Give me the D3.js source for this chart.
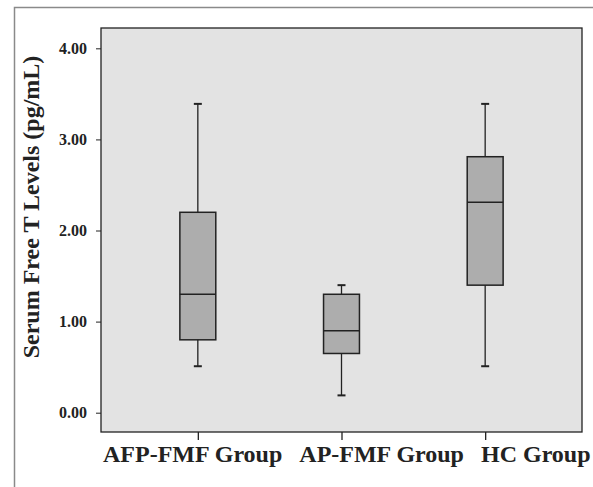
<!DOCTYPE html>
<html>
<head>
<meta charset="utf-8">
<script src="https://cdn.jsdelivr.net/npm/d3@7"></script>
<style>
  body { margin: 0; background: #fff; }
  svg { display: block; }
  .axis text { font-family: "Liberation Serif", "Times New Roman", serif; font-weight: bold; fill: #222; }
</style>
</head>
<body>
<div id="chart"></div>
<script>
// groups on the x axis
var categories = ["AFP-FMF Group", "AP-FMF Group", "HC Group"];
// box plot stats (pg/mL)
var whiskerLow  = [0.51, 0.19, 0.51];
var q1          = [0.80, 0.65, 1.40];
var medians     = [1.30, 0.90, 2.31];
var q3          = [2.20, 1.30, 2.81];
var whiskerHigh = [3.39, 1.40, 3.39];
// y tick values
var yTicks = [0, 1, 2, 3, 4];

var width = 593, height = 487;
var plot = {left: 101, right: 582, top: 28, bottom: 432};

var svg = d3.select("#chart").append("svg")
    .attr("width", width)
    .attr("height", height);

// outer grey frame (runs off the right and bottom)
svg.append("path")
    .attr("d", "M14.5," + height + "V7.5H" + width)
    .attr("fill", "none")
    .attr("stroke", "#8a8a8a")
    .attr("stroke-width", 1.5);

var xScale = d3.scalePoint()
    .domain(categories)
    .range([plot.left, plot.right])
    .padding(0.674);

var yScale = d3.scaleLinear()
    .domain([-0.212, 4.223])
    .range([plot.bottom, plot.top]);

// plot background
svg.append("rect")
    .attr("x", plot.left)
    .attr("y", plot.top)
    .attr("width", plot.right - plot.left)
    .attr("height", plot.bottom - plot.top)
    .attr("fill", "#e3e3e3")
    .attr("stroke", "#222")
    .attr("stroke-width", 1.3);

var boxData = categories.map(function(c, i) {
    return {cat: c, lo: whiskerLow[i], q1: q1[i], med: medians[i], q3: q3[i], hi: whiskerHigh[i]};
});

var boxW = xScale.step() * 0.25;
var capW = 8;

var boxes = svg.selectAll(".box")
    .data(boxData)
    .enter().append("g")
    .attr("class", "box");

// whiskers
boxes.append("line")
    .attr("x1", function(d) { return xScale(d.cat); })
    .attr("x2", function(d) { return xScale(d.cat); })
    .attr("y1", function(d) { return yScale(d.lo); })
    .attr("y2", function(d) { return yScale(d.hi); })
    .attr("stroke", "#222")
    .attr("stroke-width", 1.3);

boxes.selectAll(".cap")
    .data(function(d) { return [{cat: d.cat, v: d.lo}, {cat: d.cat, v: d.hi}]; })
    .enter().append("line")
    .attr("class", "cap")
    .attr("x1", function(d) { return xScale(d.cat) - capW / 2; })
    .attr("x2", function(d) { return xScale(d.cat) + capW / 2; })
    .attr("y1", function(d) { return yScale(d.v); })
    .attr("y2", function(d) { return yScale(d.v); })
    .attr("stroke", "#222")
    .attr("stroke-width", 2);

boxes.append("rect")
    .attr("x", function(d) { return xScale(d.cat) - boxW / 2; })
    .attr("y", function(d) { return yScale(d.q3); })
    .attr("width", boxW)
    .attr("height", function(d) { return yScale(d.q1) - yScale(d.q3); })
    .attr("fill", "#adadad")
    .attr("stroke", "#222")
    .attr("stroke-width", 1.5);

boxes.append("line")
    .attr("x1", function(d) { return xScale(d.cat) - boxW / 2; })
    .attr("x2", function(d) { return xScale(d.cat) + boxW / 2; })
    .attr("y1", function(d) { return yScale(d.med); })
    .attr("y2", function(d) { return yScale(d.med); })
    .attr("stroke", "#222")
    .attr("stroke-width", 1.5);

// y axis
var yAxis = svg.append("g")
    .attr("class", "axis y-axis")
    .attr("transform", "translate(" + plot.left + ",0)")
    .call(d3.axisLeft(yScale).tickValues(yTicks).tickFormat(d3.format(".2f")).tickSize(5).tickPadding(9));
yAxis.select(".domain").remove();
yAxis.selectAll("line").attr("stroke", "#222");
yAxis.selectAll("text").style("font-size", "16px");

// x axis ticks
var xAxis = svg.append("g")
    .attr("class", "axis x-axis")
    .attr("transform", "translate(0," + plot.bottom + ")")
    .call(d3.axisBottom(xScale).tickSize(8).tickFormat(""));
xAxis.select(".domain").remove();
xAxis.selectAll("line").attr("stroke", "#222").attr("stroke-width", 1.3);

// x labels typed as one line under the plot
var xLabel = svg.append("text")
    .attr("class", "axis")
    .attr("x", 103)
    .attr("y", 462)
    .style("font-family", "'Liberation Serif', 'Times New Roman', serif")
    .style("font-weight", "bold")
    .style("font-size", "24px")
    .attr("fill", "#222");

xLabel.selectAll("tspan")
    .data(categories)
    .enter().append("tspan")
    .attr("dx", function(d, i) { return i == 0 ? 0 : 17; })
    .text(function(d) { return d; });

// y title
svg.append("text")
    .attr("transform", "translate(39,207) rotate(-90)")
    .attr("text-anchor", "middle")
    .style("font-family", "'Liberation Serif', 'Times New Roman', serif")
    .style("font-weight", "bold")
    .style("font-size", "24px")
    .attr("fill", "#222")
    .text("Serum Free T Levels (pg/mL)");
</script>
</body>
</html>
